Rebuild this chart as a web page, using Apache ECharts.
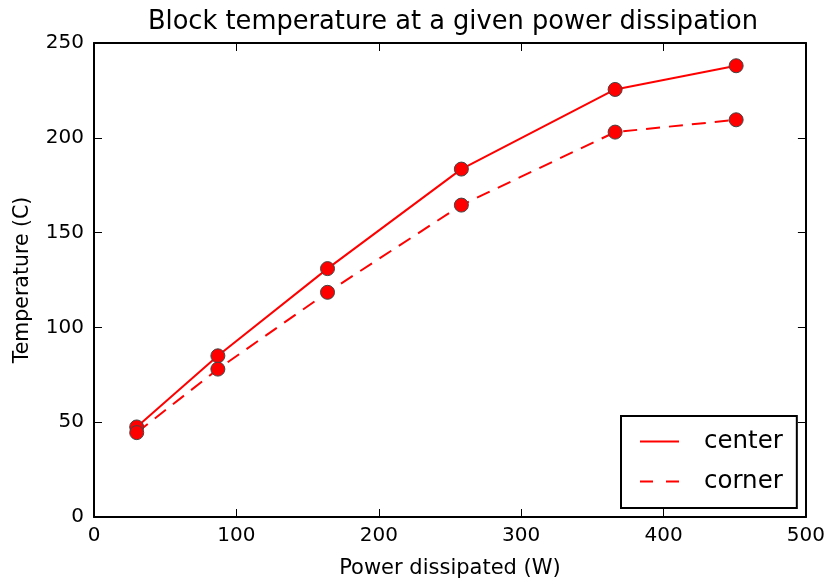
<!DOCTYPE html>
<html>
<head>
<meta charset="utf-8">
<script src="https://cdn.jsdelivr.net/npm/echarts@6/dist/echarts.min.js"></script>
<style>
  html, body { margin: 0; padding: 0; background: #fff; }
  #chart { width: 828px; height: 584px; }
</style>
</head>
<body>
<div id="chart"></div>
<script>
// Power dissipated (W) and measured block temperatures (C)
const power = [30, 87, 164, 258, 366, 451];
const centerTemp = [47.5, 85, 131, 183.5, 225.5, 238];
const cornerTemp = [44.5, 78, 118.5, 164.5, 203, 209.5];
const xTicks = [0, 100, 200, 300, 400, 500];
const yTicks = [0, 50, 100, 150, 200, 250];

const FONT = 'DejaVu Sans';
const chart = echarts.init(document.getElementById('chart'), null, { renderer: 'canvas' });

const pairs = (xs, ys) => xs.map((x, i) => [x, ys[i]]);

const frameAxis = {
  axisLine: { show: true, onZero: false, lineStyle: { color: '#000', width: 2 } },
  axisTick: { show: true, inside: true, length: 8, lineStyle: { color: '#000', width: 1 } },
  splitLine: { show: false }
};

const markerStyle = { color: '#ff0000', borderColor: '#444', borderWidth: 1 };
const legendIconStyle = { color: '#ff0000', borderWidth: 0 };

chart.setOption({
  animation: false,
  backgroundColor: '#fff',
  title: {
    text: 'Block temperature at a given power dissipation',
    left: 448, top: 4, textAlign: 'center',
    textStyle: { fontFamily: FONT, fontSize: 25.7, fontWeight: 'normal', color: '#000' }
  },
  grid: { left: 94, top: 43, right: 19, bottom: 66 },
  xAxis: [
    Object.assign({
      type: 'value', min: xTicks[0], max: xTicks[xTicks.length - 1], interval: 100,
      position: 'bottom',
      name: 'Power dissipated (W)', nameLocation: 'middle', nameGap: 41,
      nameTextStyle: { fontFamily: FONT, fontSize: 21, color: '#000' },
      axisLabel: { fontFamily: FONT, fontSize: 20, color: '#000', margin: 9 }
    }, frameAxis),
    Object.assign({
      type: 'value', min: xTicks[0], max: xTicks[xTicks.length - 1], interval: 100,
      position: 'top', axisLabel: { show: false }
    }, frameAxis)
  ],
  yAxis: [
    Object.assign({
      type: 'value', min: yTicks[0], max: yTicks[yTicks.length - 1], interval: 50,
      position: 'left',
      name: 'Temperature (C)', nameLocation: 'middle', nameGap: 61,
      nameTextStyle: { fontFamily: FONT, fontSize: 20.5, color: '#000' },
      axisLabel: { fontFamily: FONT, fontSize: 20, color: '#000', margin: 10 }
    }, frameAxis),
    Object.assign({
      type: 'value', min: yTicks[0], max: yTicks[yTicks.length - 1], interval: 50,
      position: 'right', axisLabel: { show: false }
    }, frameAxis)
  ],
  legend: {
    orient: 'vertical',
    left: 621, top: 416,
    padding: [13, 14, 14, 19],
    backgroundColor: '#fff',
    borderColor: '#000', borderWidth: 2, borderRadius: 0,
    itemWidth: 39, itemHeight: 2, itemGap: 15,
    textStyle: { fontFamily: FONT, fontSize: 24.5, color: '#000', padding: [0, 0, 0, 20] },
    data: [
      { name: 'center', icon: 'path://M0,0h39v2h-39z', itemStyle: legendIconStyle },
      { name: 'corner', icon: 'path://M0,0h13v2h-13z M26,0h13v2h-13z', itemStyle: legendIconStyle }
    ]
  },
  series: [
    {
      name: 'center', type: 'line', xAxisIndex: 0, yAxisIndex: 0,
      data: pairs(power, centerTemp),
      symbol: 'circle', symbolSize: 14,
      lineStyle: { color: '#ff0000', width: 2, type: 'solid' },
      itemStyle: markerStyle
    },
    {
      name: 'corner', type: 'line', xAxisIndex: 0, yAxisIndex: 0,
      data: pairs(power, cornerTemp),
      symbol: 'circle', symbolSize: 14,
      lineStyle: { color: '#ff0000', width: 2, type: [14, 9] },
      itemStyle: markerStyle
    }
  ]
});
</script>
</body>
</html>
